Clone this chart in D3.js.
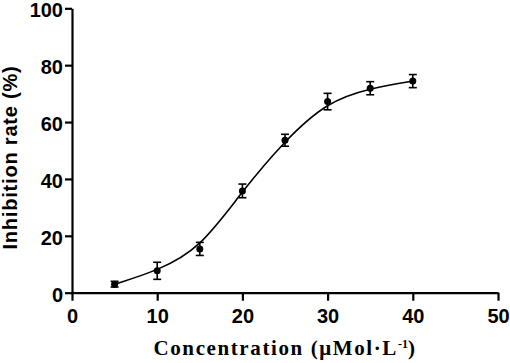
<!DOCTYPE html>
<html>
<head>
<meta charset="utf-8">
<script src="https://cdn.jsdelivr.net/npm/d3@7"></script>
<style>
  body { margin: 0; background: #fff; }
  .axis path, .axis line { stroke: #000; stroke-width: 2.2px; }
  .axis text { font-family: "Liberation Sans", Arial, sans-serif; font-weight: bold; font-size: 20px; fill: #000; }
</style>
</head>
<body>
<div id="chart"></div>
<script>
    // Concentration (uMol/L), mean inhibition (%), error (SD)
    const conc = [5, 10, 15, 20, 25, 30, 35, 40];
    const inhibition = [3.0, 7.7, 15.4, 35.8, 53.6, 67.2, 71.9, 74.4];
    const errors = [1.0, 3.0, 2.3, 2.4, 2.1, 2.9, 2.3, 2.3];
    const xTicks = [0, 10, 20, 30, 40, 50];
    const yTicks = [0, 20, 40, 60, 80, 100];

    const data = conc.map((c, i) => ({ x: c, y: inhibition[i], e: errors[i] }));

    const W = 510, H = 363;
    const margin = { top: 8.3, right: 12, bottom: 70, left: 72 };
    const height = 284.4;

    const svg = d3.select("#chart")
      .append("svg")
        .attr("width", W)
        .attr("height", H)
      .append("g")
        .attr("transform", `translate(${margin.left},${margin.top})`);

    const x = d3.scaleLinear().domain([0, 50]).range([0, 426]);
    const y = d3.scaleLinear().domain([0, 100]).range([height, 0]);

    // axes
    svg.append("g")
      .attr("class", "axis")
      .attr("transform", `translate(0,${y(0)})`)
      .call(d3.axisBottom(x).tickValues(xTicks).tickSize(8).tickSizeOuter(0).tickPadding(8));

    const yAxis = svg.append("g")
      .attr("class", "axis")
      .call(d3.axisLeft(y).tickValues(yTicks).tickSize(7).tickSizeOuter(0).tickPadding(2));
    yAxis.selectAll("text").attr("dy", "0.42em");

    // fitted sigmoid-like curve (smoothed through the means)
    const line = d3.line()
      .x(d => x(d.x))
      .y(d => y(d.y))
      .curve(d3.curveBasis);

    svg.append("path")
      .datum(data)
      .attr("fill", "none")
      .attr("stroke", "#000")
      .attr("stroke-width", 1.6)
      .attr("d", line);

    // error bars
    const eb = svg.selectAll(".err")
      .data(data)
      .enter()
      .append("g")
        .attr("class", "err")
        .attr("stroke", "#000")
        .attr("stroke-width", 1.6);

    eb.append("line")
      .attr("x1", d => x(d.x)).attr("x2", d => x(d.x))
      .attr("y1", d => y(d.y + d.e)).attr("y2", d => y(d.y - d.e));
    eb.append("line")
      .attr("x1", d => x(d.x) - 4).attr("x2", d => x(d.x) + 4)
      .attr("y1", d => y(d.y + d.e)).attr("y2", d => y(d.y + d.e));
    eb.append("line")
      .attr("x1", d => x(d.x) - 4).attr("x2", d => x(d.x) + 4)
      .attr("y1", d => y(d.y - d.e)).attr("y2", d => y(d.y - d.e));

    // points
    svg.selectAll(".dot")
      .data(data)
      .enter()
      .append("circle")
        .attr("class", "dot")
        .attr("cx", d => x(d.x))
        .attr("cy", d => y(d.y))
        .attr("r", 3.5)
        .style("fill", "#000");

    // y axis label
    svg.append("text")
      .attr("transform", "rotate(-90)")
      .attr("x", -(y(0) / 2 + 7))
      .attr("y", -margin.left + 17)
      .attr("text-anchor", "middle")
      .style("font-family", "'Liberation Sans', Arial, sans-serif")
      .style("font-weight", "bold")
      .style("font-size", "20px")
      .style("letter-spacing", "0.8px")
      .text("Inhibition rate (%)");

    // x axis label
    const xl = svg.append("text")
      .attr("x", x(25))
      .attr("y", y(0) + 62)
      .attr("text-anchor", "middle")
      .style("font-family", "'Liberation Serif', 'Times New Roman', serif")
      .style("font-weight", "bold")
      .style("font-size", "21px")
      .style("letter-spacing", "1.6px");
    xl.append("tspan").text("Concentration (\u03bcMol\u00b7L");
    xl.append("tspan").attr("dy", -7).style("font-size", "12px").style("letter-spacing", "0px").text("-1");
    xl.append("tspan").attr("dy", 7).text(")");
</script>
</body>
</html>
